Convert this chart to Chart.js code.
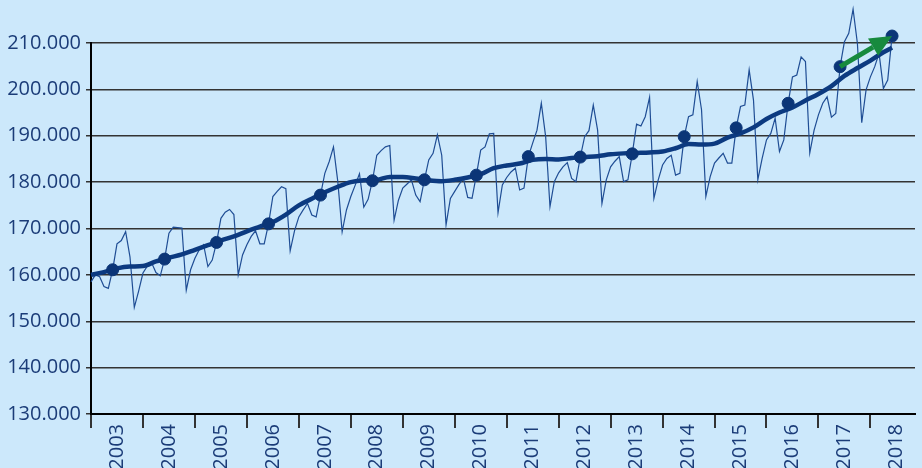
<!DOCTYPE html>
<html>
<head>
<meta charset="utf-8">
<script src="https://cdn.jsdelivr.net/npm/chart.js@4.4.1/dist/chart.umd.min.js"></script>
<style>
  html, body { margin: 0; padding: 0; background: #cce8fb; }
  #wrap { width: 922px; height: 468px; }
</style>
</head>
<body>
<div id="wrap"><canvas id="chart" width="922" height="468"></canvas></div>
<script>
// all values in thousands (axis shows 210.000 = 210 thousand)
const years = ['2003', '2004', '2005', '2006', '2007', '2008', '2009', '2010',
               '2011', '2012', '2013', '2014', '2015', '2016', '2017', '2018'];

// monthly values, Jan 2003 .. Jun 2018, one row per year
const monthly = [
  158.5, 160.0, 159.6, 157.5, 157.1, 161.1, 166.7, 167.4, 169.3, 163.9, 153.0, 156.5,
  160.4, 161.9, 162.6, 160.5, 159.8, 163.4, 169.0, 170.3, 170.2, 170.1, 156.7, 161.1,
  163.6, 165.4, 166.5, 161.8, 163.2, 167.0, 172.2, 173.5, 174.1, 173.0, 160.0, 164.3,
  166.5, 168.3, 169.5, 166.7, 166.7, 171.0, 176.9, 178.0, 179.0, 178.6, 165.2, 169.5,
  172.5, 174.0, 175.4, 172.9, 172.5, 177.2, 181.9, 184.4, 187.6, 180.1, 169.3, 174.0,
  176.9, 179.3, 181.8, 174.6, 176.3, 180.3, 185.8, 186.8, 187.6, 187.9, 171.8, 176.1,
  178.7, 179.6, 180.5, 177.2, 175.8, 180.5, 184.8, 186.2, 190.2, 185.8, 170.8, 176.5,
  178.0, 179.5, 180.8, 176.7, 176.5, 181.5, 186.9, 187.6, 190.4, 190.5, 173.4, 179.4,
  181.0, 182.2, 183.0, 178.3, 178.7, 185.5, 188.4, 191.2, 197.0, 189.8, 174.7, 180.1,
  182.0, 183.3, 184.2, 180.8, 180.1, 185.4, 189.8, 191.1, 196.6, 191.2, 175.4, 180.5,
  183.3, 184.5, 185.5, 180.1, 180.5, 186.1, 192.5, 192.1, 194.1, 198.3, 176.5, 180.5,
  183.7, 185.1, 185.8, 181.5, 181.9, 189.8, 194.1, 194.5, 201.7, 195.6, 176.9, 181.2,
  184.1, 185.2, 186.2, 184.1, 184.1, 191.7, 196.3, 196.6, 204.2, 197.7, 180.5, 185.1,
  189.1, 190.5, 193.8, 186.6, 189.1, 197.0, 202.7, 203.1, 207.0, 206.0, 186.3, 191.2,
  194.5, 197.0, 198.4, 194.0, 194.8, 204.9, 210.3, 212.1, 217.3, 209.9, 192.8, 199.9,
  202.7, 204.9, 207.8, 200.2, 202.0, 211.5
];

// smoothed trend, read every third month
const trendMonths = [0, 3, 6, 9, 12, 15, 18, 21, 24, 27, 30, 33, 36, 39, 42, 45, 48, 51, 54, 57,
  60, 63, 66, 69, 72, 75, 78, 81, 84, 87, 90, 93, 96, 99, 102, 105, 108, 111, 114, 117,
  120, 123, 126, 129, 132, 135, 138, 141, 144, 147, 150, 153, 156, 159, 162, 165, 168, 171,
  174, 177, 180, 183, 185];
const trendValues = [160.0, 160.6, 161.4, 161.8, 161.9, 162.9, 163.7, 164.4, 165.4, 166.4,
  167.4, 168.3, 169.4, 170.4, 171.4, 173.0, 175.0, 176.4, 177.8, 179.0,
  180.0, 180.4, 180.5, 181.1, 181.1, 180.8, 180.4, 180.2, 180.5, 181.0,
  181.7, 183.0, 183.6, 184.0, 184.8, 185.0, 184.9, 185.2, 185.4, 185.6,
  186.0, 186.2, 186.3, 186.4, 186.6, 187.3, 188.2, 188.1, 188.3, 189.6,
  190.5, 191.8, 193.6, 195.0, 196.1, 197.6, 199.0, 200.7, 202.9, 204.6,
  206.2, 208.0, 209.0];

const markerMonth = 5; // June value of each year carries a dot

const NAVY = '#1b3c78';
const labelFont = { family: "'Open Sans', sans-serif", size: 20 };

const monthlyPts = monthly.map((v, i) => ({ x: i, y: v }));
const trendPts = trendMonths.map((m, i) => ({ x: m, y: trendValues[i] }));
const dotPts = monthlyPts.filter(p => p.x % 12 === markerMonth);

const background = {
  id: 'background',
  beforeDraw(chart) {
    const ctx = chart.ctx;
    ctx.save();
    ctx.fillStyle = '#cce8fb';
    ctx.fillRect(0, 0, chart.width, chart.height);
    ctx.restore();
  }
};

// green arrow from the 2017 dot to the 2018 dot
const arrow = {
  id: 'arrow',
  afterDatasetsDraw(chart) {
    const pts = chart.getDatasetMeta(2).data;
    const a = pts[pts.length - 2], b = pts[pts.length - 1];
    const ctx = chart.ctx;
    const ang = Math.atan2(b.y - a.y, b.x - a.x);
    const head = 22, half = 10;
    const bx = b.x - Math.cos(ang) * head, by = b.y - Math.sin(ang) * head;
    ctx.save();
    ctx.strokeStyle = '#178a3e';
    ctx.fillStyle = '#178a3e';
    ctx.lineWidth = 5;
    ctx.beginPath();
    ctx.moveTo(a.x, a.y);
    ctx.lineTo(bx, by);
    ctx.stroke();
    ctx.beginPath();
    ctx.moveTo(b.x, b.y);
    ctx.lineTo(bx + Math.sin(ang) * half, by - Math.cos(ang) * half);
    ctx.lineTo(bx - Math.sin(ang) * half, by + Math.cos(ang) * half);
    ctx.closePath();
    ctx.fill();
    ctx.restore();
  }
};

new Chart(document.getElementById('chart'), {
  type: 'line',
  data: {
    datasets: [
      {
        data: monthlyPts,
        borderColor: '#1f4d94',
        borderWidth: 1.2,
        pointRadius: 0,
        tension: 0,
        clip: false,
        order: 3
      },
      {
        data: trendPts,
        borderColor: '#0c3a80',
        borderWidth: 4.5,
        pointRadius: 0,
        cubicInterpolationMode: 'monotone',
        clip: false,
        order: 2
      },
      {
        data: dotPts,
        showLine: false,
        pointRadius: 6,
        pointBackgroundColor: '#0b3577',
        pointBorderColor: '#0b3577',
        clip: false,
        order: 1
      }
    ]
  },
  options: {
    responsive: false,
    animation: false,
    layout: { padding: { top: 43, right: 0, bottom: 0, left: 0 } },
    plugins: {
      legend: { display: false },
      tooltip: { enabled: false }
    },
    scales: {
      x: {
        type: 'linear',
        min: 0,
        max: 190.3,
        afterBuildTicks: s => { s.ticks = years.map((y, k) => ({ value: k * 12 + 6 })); },
        afterFit: s => { s.height = 54; },
        ticks: {
          callback: (v, i) => years[i],
          autoSkip: false,
          minRotation: 90,
          maxRotation: 90,
          padding: -4,
          color: NAVY,
          font: labelFont
        },
        grid: { drawOnChartArea: false, offset: true, tickLength: 14, color: '#333', lineWidth: 2 },
        border: { color: '#000', width: 2 }
      },
      y: {
        min: 130,
        max: 210,
        afterFit: s => { s.width = 91; },
        ticks: {
          stepSize: 10,
          callback: v => v + '.000',
          padding: 5,
          color: NAVY,
          font: labelFont
        },
        grid: { color: '#333', lineWidth: 1.5, tickLength: 5 },
        border: { color: '#000', width: 2 }
      }
    }
  },
  plugins: [background, arrow]
});
</script>
</body>
</html>
